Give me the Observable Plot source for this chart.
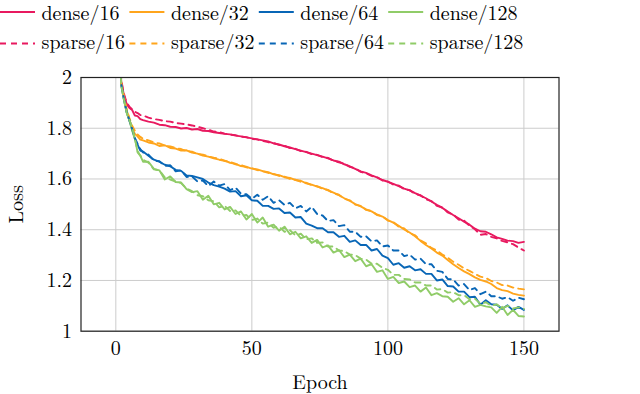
<!DOCTYPE html>
<html><head><meta charset="utf-8">
<script src="https://cdn.jsdelivr.net/npm/d3@7"></script>
<script src="https://cdn.jsdelivr.net/npm/@observablehq/plot@0.6"></script>
<style>
body{margin:0;background:#fff;}
#wrap{position:relative;width:640px;height:394px;}
#legend{position:absolute;left:0;top:0;}
</style></head><body><div id="wrap"></div>
<script>
const epochs = [1,2,3,4,5,6,7,8,9,10,
12,14,16,18,20,22,24,26,28,30,
32,34,36,38,40,42,44,46,48,50,
52,54,56,58,60,62,64,66,68,70,
72,74,76,78,80,82,84,86,88,90,
92,94,96,98,100,102,104,106,108,110,
112,114,116,118,120,122,124,126,128,130,
132,134,136,138,140,142,144,146,148,150];

const dense16 = [2.25,1.98,1.93,1.895,1.88,1.872,1.85,1.848,1.836,1.832,
1.826,1.822,1.814,1.812,1.806,1.805,1.799,1.801,1.795,1.797,
1.790,1.789,1.784,1.781,1.778,1.776,1.771,1.768,1.764,1.760,
1.756,1.752,1.748,1.740,1.736,1.729,1.724,1.718,1.712,1.706,
1.700,1.694,1.688,1.681,1.673,1.668,1.658,1.650,1.640,1.630,
1.624,1.614,1.606,1.596,1.589,1.581,1.572,1.562,1.555,1.544,
1.534,1.524,1.511,1.498,1.486,1.472,1.458,1.445,1.432,1.420,
1.404,1.394,1.392,1.382,1.370,1.364,1.357,1.355,1.348,1.352];
const sparse16 = [2.28,1.99,1.935,1.90,1.885,1.875,1.865,1.860,1.852,1.850,
1.842,1.836,1.833,1.828,1.826,1.821,1.818,1.815,1.811,1.806,
1.800,1.794,1.787,1.785,1.779,1.775,1.773,1.767,1.765,1.758,
1.756,1.750,1.745,1.742,1.734,1.731,1.722,1.719,1.710,1.707,
1.698,1.695,1.686,1.683,1.672,1.666,1.660,1.648,1.642,1.628,
1.622,1.612,1.607,1.594,1.590,1.578,1.574,1.560,1.556,1.541,
1.536,1.520,1.513,1.494,1.488,1.468,1.460,1.440,1.436,1.415,
1.402,1.380,1.383,1.372,1.366,1.356,1.350,1.343,1.330,1.318];
const dense32 = [2.22,1.975,1.92,1.87,1.835,1.80,1.778,1.768,1.755,1.752,
1.744,1.740,1.730,1.733,1.722,1.720,1.712,1.713,1.704,1.700,
1.692,1.688,1.681,1.676,1.672,1.664,1.660,1.651,1.648,1.641,
1.638,1.631,1.627,1.618,1.615,1.607,1.604,1.596,1.593,1.583,
1.578,1.570,1.564,1.555,1.546,1.536,1.524,1.514,1.501,1.492,
1.480,1.472,1.460,1.452,1.438,1.428,1.415,1.401,1.389,1.374,
1.356,1.340,1.326,1.310,1.298,1.281,1.264,1.249,1.236,1.225,
1.212,1.202,1.196,1.186,1.170,1.162,1.158,1.148,1.143,1.140];
const sparse32 = [2.24,1.98,1.925,1.875,1.84,1.81,1.79,1.775,1.766,1.758,
1.752,1.744,1.740,1.732,1.728,1.722,1.718,1.710,1.708,1.699,
1.696,1.689,1.684,1.680,1.671,1.668,1.658,1.655,1.646,1.643,
1.635,1.630,1.624,1.620,1.612,1.609,1.600,1.597,1.589,1.585,
1.576,1.572,1.561,1.557,1.543,1.538,1.522,1.516,1.499,1.494,
1.478,1.474,1.458,1.453,1.436,1.430,1.412,1.405,1.386,1.378,
1.358,1.346,1.328,1.318,1.302,1.290,1.274,1.262,1.248,1.238,
1.226,1.215,1.210,1.198,1.192,1.182,1.180,1.172,1.168,1.165];
const dense64 = [2.21,1.97,1.912,1.862,1.83,1.795,1.758,1.735,1.712,1.708,
1.692,1.676,1.668,1.656,1.650,1.636,1.632,1.614,1.612,1.606,
1.600,1.586,1.576,1.570,1.562,1.550,1.552,1.532,1.536,1.516,
1.514,1.494,1.494,1.482,1.484,1.466,1.468,1.448,1.450,1.424,
1.416,1.406,1.406,1.390,1.390,1.372,1.376,1.352,1.358,1.340,
1.340,1.318,1.324,1.298,1.288,1.262,1.268,1.250,1.256,1.240,
1.244,1.226,1.226,1.200,1.204,1.178,1.176,1.156,1.156,1.134,
1.136,1.104,1.122,1.106,1.104,1.088,1.102,1.082,1.096,1.084];
const sparse64 = [2.23,1.975,1.915,1.865,1.832,1.798,1.762,1.738,1.718,1.705,
1.696,1.672,1.670,1.652,1.654,1.630,1.634,1.608,1.610,1.590,
1.594,1.572,1.590,1.574,1.580,1.556,1.566,1.542,1.540,1.522,
1.538,1.518,1.532,1.506,1.516,1.498,1.506,1.484,1.494,1.472,
1.490,1.462,1.456,1.434,1.438,1.414,1.418,1.392,1.392,1.372,
1.374,1.354,1.358,1.334,1.338,1.318,1.318,1.296,1.302,1.282,
1.286,1.264,1.264,1.238,1.234,1.206,1.204,1.180,1.186,1.162,
1.170,1.146,1.156,1.138,1.138,1.128,1.134,1.120,1.132,1.126];
const dense128 = [2.20,1.968,1.91,1.86,1.83,1.79,1.76,1.705,1.692,1.668,
1.668,1.640,1.634,1.598,1.610,1.588,1.586,1.560,1.548,1.552,
1.518,1.534,1.500,1.506,1.480,1.490,1.462,1.472,1.440,1.462,
1.428,1.448,1.412,1.420,1.396,1.412,1.382,1.392,1.366,1.374,
1.348,1.360,1.330,1.338,1.310,1.320,1.292,1.302,1.276,1.286,
1.256,1.264,1.234,1.240,1.206,1.214,1.190,1.196,1.174,1.180,
1.156,1.172,1.142,1.150,1.138,1.136,1.116,1.130,1.106,1.122,
1.096,1.104,1.098,1.094,1.072,1.096,1.064,1.084,1.060,1.058];
const sparse128 = [2.22,1.97,1.912,1.862,1.832,1.802,1.76,1.71,1.692,1.676,
1.664,1.638,1.634,1.606,1.598,1.590,1.584,1.562,1.552,1.536,
1.532,1.516,1.512,1.488,1.494,1.474,1.476,1.454,1.458,1.438,
1.444,1.424,1.428,1.408,1.412,1.392,1.398,1.378,1.384,1.362,
1.366,1.348,1.350,1.334,1.334,1.318,1.316,1.302,1.300,1.286,
1.282,1.266,1.266,1.250,1.242,1.222,1.222,1.206,1.204,1.192,
1.192,1.180,1.180,1.164,1.166,1.152,1.154,1.142,1.142,1.126,
1.128,1.108,1.114,1.100,1.106,1.090,1.100,1.090,1.094,1.088];

const sizes = ["16","32","64","128"];
const colors = ["#e8195f","#ffa51c","#0866b6","#90cc68"];
const xTicks = [0,50,100,150];
const yTicks = [1,1.2,1.4,1.6,1.8,2];
const denseSeries = [dense16, dense32, dense64, dense128];
const sparseSeries = [sparse16, sparse32, sparse64, sparse128];

const denseRows = [], sparseRows = [];
sizes.forEach((s, i) => {
  epochs.forEach((e, j) => {
    denseRows.push({epoch: e, loss: denseSeries[i][j], size: s});
    sparseRows.push({epoch: e, loss: sparseSeries[i][j], size: s});
  });
});

const FONT = "Latin Modern Roman, Liberation Serif, serif";
const FS = 20;
const chart = Plot.plot({
  width: 640, height: 394,
  marginLeft: 80.5, marginRight: 81.5, marginTop: 77, marginBottom: 63.3,
  style: {fontFamily: FONT, fontSize: FS + "px", color: "#000", background: "#fff"},
  x: {domain: [-12.8, 162.9]},
  y: {domain: [1, 2]},
  color: {domain: sizes, range: colors},
  marks: [
    Plot.gridX(xTicks, {stroke: "#cccccc", strokeOpacity: 1, strokeWidth: 1}),
    Plot.gridY(yTicks, {stroke: "#cccccc", strokeOpacity: 1, strokeWidth: 1}),
    Plot.line(denseRows, {x: "epoch", y: "loss", z: "size", stroke: "size", strokeWidth: 1.9, clip: true}),
    Plot.line(sparseRows, {x: "epoch", y: "loss", z: "size", stroke: "size", strokeWidth: 1.9, strokeDasharray: "6,5", clip: true}),
    Plot.frame({stroke: "#222", strokeWidth: 1.2}),
    Plot.axisX(xTicks, {tickSize: 0, tickPadding: 10, tickFormat: d3.format("~g"), label: "Epoch", labelAnchor: "center", labelOffset: 58, labelArrow: "none"}),
    Plot.axisY(yTicks, {tickSize: 0, tickPadding: 9, tickFormat: d3.format("~g"), label: "Loss", labelAnchor: "center", labelOffset: 72, labelArrow: "none"})
  ]
});
const wrap = document.getElementById("wrap");
wrap.appendChild(chart);
d3.select(chart).attr("font-family", FONT).attr("font-size", FS);
d3.select(chart).selectAll("text").attr("font-family", FONT).style("font-family", FONT);

// legend
const labelsDense = sizes.map(s => "dense/" + s);
const labelsSparse = sizes.map(s => "sparse/" + s);
const leg = d3.select(wrap).append("svg").attr("id", "legend").attr("width", 640).attr("height", 60);
[[labelsDense, null, 12, 20], [labelsSparse, "6,5", 43.5, 49]].forEach(([labels, dash, ly, ty]) => {
  labels.forEach((t, i) => {
    const x0 = i * 129.4;
    leg.append("line").attr("x1", x0).attr("x2", x0 + 35).attr("y1", ly).attr("y2", ly)
      .attr("stroke", colors[i]).attr("stroke-width", 1.9).attr("stroke-dasharray", dash);
    leg.append("text").attr("x", x0 + 41.5).attr("y", ty).attr("fill", "#000")
      .attr("font-family", FONT).attr("font-size", FS).text(t);
  });
});
</script></body></html>
